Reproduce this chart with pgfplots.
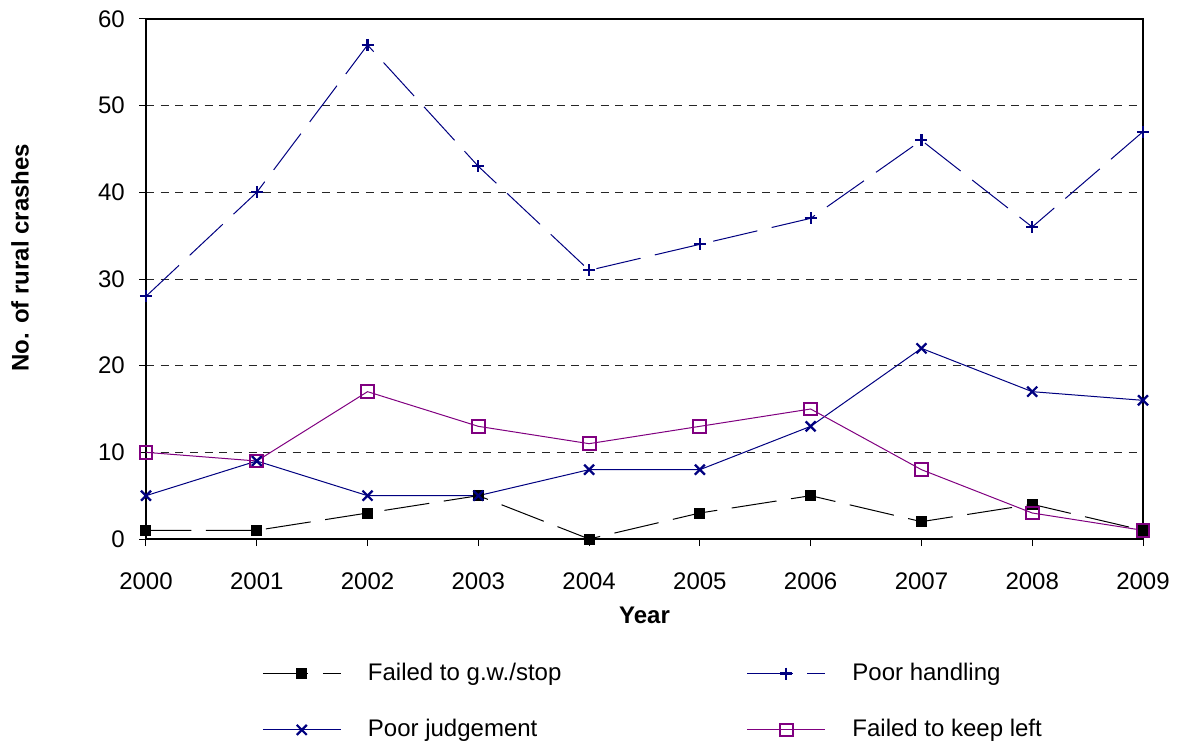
\documentclass[border=0pt]{standalone}
\usepackage{pgfplots}
\pgfplotsset{compat=1.18}
\usepackage{fontspec}
\setmainfont{Liberation Sans}
\usetikzlibrary{calc}
\definecolor{navy}{RGB}{0,0,128}
\definecolor{purp}{RGB}{128,0,128}
\begin{document}
\fontsize{18pt}{21.5pt}\selectfont
\begin{tikzpicture}
\begin{axis}[
  scale only axis, width=747.75pt, height=390pt,
  xmin=2000, xmax=2009, ymin=0, ymax=60,
  xtick={2000,2001,...,2009}, ytick={0,10,...,60},
  /pgf/number format/1000 sep={},
  /pgf/number format/assume math mode=true,
  tick align=outside, major tick length=5.25pt,
  tick style={black, line width=0.75pt},
  xtick pos=left, ytick pos=left,
  xticklabel style={yshift=-14pt},
  yticklabel style={xshift=-4.5pt},
  axis line style={line width=0.9pt},
  ymajorgrids, grid style={black!85, dash pattern=on 6pt off 5pt, line width=0.75pt},
  xlabel={\textbf{Year}}, ylabel={\textbf{No. of rural crashes}},
  xlabel style={at={(axis description cs:0.5,0)}, anchor=center, yshift=-57pt},
  ylabel style={at={(axis description cs:-0.1264,0.541)}, anchor=center},
  clip=false,
  legend columns=2,
  legend cell align=left,
  legend style={draw=none, fill=none, inner sep=0pt,
    at={(axis description cs:0.1164,-0.233)}, anchor=north west,
    row sep=22.5pt,
    /tikz/every odd column/.append style={column sep=18pt},
    /tikz/every even column/.append style={column sep=137pt}},
  legend image code/.code={\draw[mark repeat=2, mark phase=2] plot coordinates {(0pt,0pt)(29.25pt,0pt)(58.5pt,0pt)};},
]
\addplot[black, line width=0.75pt, dash pattern=on 34pt off 11pt, mark=square*, mark size=3.75pt, mark options={solid}]
  coordinates {(2000,1)(2001,1)(2002,3)(2003,5)(2004,0)(2005,3)(2006,5)(2007,2)(2008,4)(2009,1)};
\addlegendentry{Failed to g.w./stop}
\addplot[navy, line width=0.75pt, dash pattern=on 34pt off 11pt, mark=+, mark size=4.5pt, mark options={solid, line width=1.7pt}]
  coordinates {(2000,28)(2001,40)(2002,57)(2003,43)(2004,31)(2005,34)(2006,37)(2007,46)(2008,36)(2009,47)};
\addlegendentry{Poor handling}
\addplot[navy, line width=0.75pt, mark=x, mark size=5.3pt, mark options={line width=1.7pt}]
  coordinates {(2000,5)(2001,9)(2002,5)(2003,5)(2004,8)(2005,8)(2006,13)(2007,22)(2008,17)(2009,16)};
\addlegendentry{Poor judgement}
\addplot[purp, line width=0.75pt, mark=square, mark size=4.8pt, mark options={line width=1.5pt}]
  coordinates {(2000,10)(2001,9)(2002,17)(2003,13)(2004,11)(2005,13)(2006,15)(2007,8)(2008,3)(2009,1)};
\addlegendentry{Failed to keep left}
\coordinate (BL) at (rel axis cs:0,0);
\coordinate (TR) at (rel axis cs:1,1);
\end{axis}
\pgfresetboundingbox
\path ($(BL)+(-109.5pt,-152.25pt)$) rectangle ($(TR)+(26.25pt,14.25pt)$);
\end{tikzpicture}
\end{document}
